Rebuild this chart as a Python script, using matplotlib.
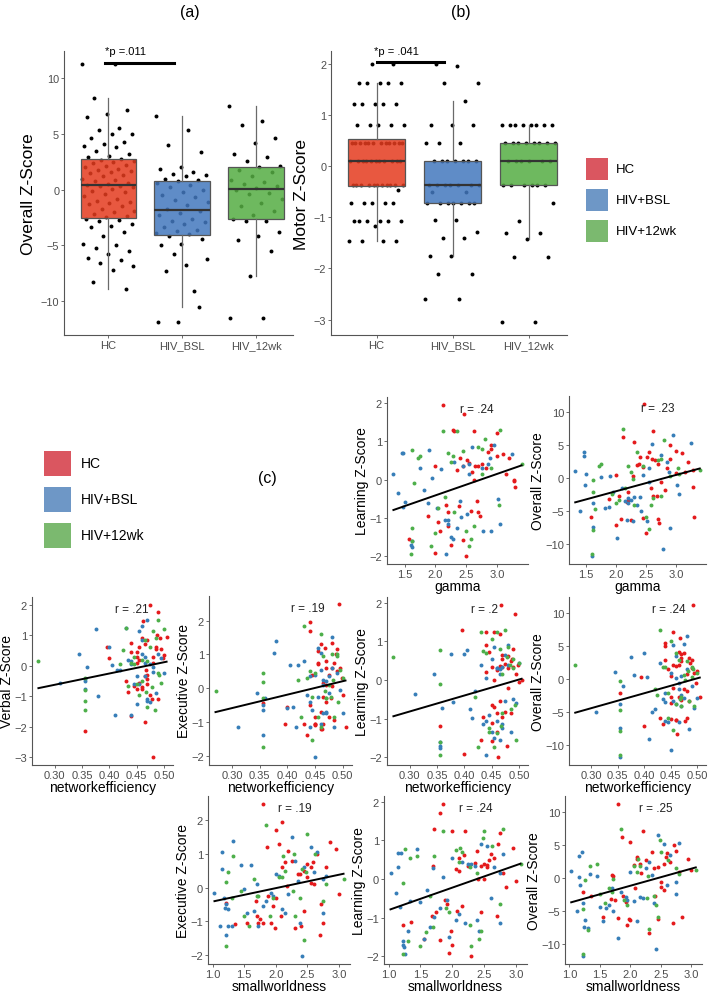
import numpy as np
import matplotlib.pyplot as plt
from matplotlib.colors import to_rgba
from matplotlib.patches import Rectangle

plt.rcParams['font.family'] = ['Liberation Sans', 'DejaVu Sans']

# ---- box plot data (a): overall z-score, (b): motor z-score ----
box_groups = ['HC', 'HIV_BSL', 'HIV_12wk']
overall_hc = [11.3, 11.3, 8.2, 7.2, 6.8, 6.5, 5.5, 5.4, 5.0, 5.0, 4.6, 4.3, 4.1, 3.9, 3.8, 3.5, 3.2, 3.0, 2.9, 2.8,
              2.7, 2.6, 2.5, 2.4, 2.2, 2.1, 2.0, 1.9, 1.8, 1.7, 1.6, 1.5, 1.3, 1.2, 1.0, 0.9, 0.8, 0.6, 0.5, 0.45,
              0.35, 0.3, 0.2, 0.1, -0.1, -0.2, -0.4, -0.6, -0.8, -1.0, -1.1, -1.2, -1.3, -1.5, -1.7, -1.9, -2.0, -2.2, -2.4, -2.5,
              -2.6, -2.7, -2.8, -3.1, -3.3, -3.4, -3.8, -4.2, -4.9, -5.0, -5.2, -5.5, -5.8, -6.1, -6.3, -6.6, -6.9, -7.2, -8.3, -8.9]
overall_bsl = [6.6, 5.4, 4.0, 3.4, 2.0, 1.9, 1.6, 1.45, 1.35, 1.2, 1.0, 0.85,
               0.75, 0.6, 0.4, 0.2, 0.0, -0.2, -0.5, -0.7, -0.9, -1.1, -1.4, -1.7,
               -1.9, -2.1, -2.3, -2.6, -2.8, -2.9, -3.1, -3.4, -3.6, -3.7, -3.9, -4.0,
               -4.2, -4.4, -4.9, -5.0, -9.1, -5.8, -6.2, -6.8, -7.3, -10.5, -11.9, -11.9]
overall_12wk = [7.5, 6.2, 5.8, 4.6, 4.2, 3.2, 2.9, 2.6, 2.1,
                2.0, 1.8, 1.6, 1.2, 0.9, 0.7, 0.5, 0.3, 0.15,
                0.0, -0.3, -0.4, -0.8, -1.2, -1.5, -1.9, -2.3, -2.6,
                -2.8, -2.8, -3.8, -4.2, -4.5, -5.5, -7.8, -11.5, -11.5]
motor_hc = ([-1.47] * 4 + [-1.18] + [-1.07] * 6 + [-0.72] * 5 + [-0.47] + [-0.37] * 11 + [0.1] * 11
            + [0.45] * 12 + [0.8] * 5 + [1.22] * 5 + [1.62] * 5 + [2.0] * 2)
motor_bsl = ([-2.6, -2.6, -2.1, -2.1, -1.75, -1.75, -1.4, -1.4, -1.28, -1.05, -1.05] + [-0.72] * 7
             + [-0.5] * 2 + [-0.37] * 7 + [0.1] * 7 + [0.45, 0.45, 0.45, 0.8, 0.8, 0.8, 1.28, 1.62, 1.62, 1.95, 2.0])
motor_12wk = ([-3.05, -3.05, -1.78, -1.78, -1.42, -1.3, -1.3, -1.07, -0.72] + [-0.37] * 6 + [0.1] * 6
              + [0.45] * 8 + [0.8] * 8)

# ---- scatter data, one entry per subject (HC 44, HIV+BSL 40, HIV+12wk 30) ----
group_sizes = [44, 40, 30]
gamma = [2.20, 2.28, 2.00, 1.58, 2.72, 2.60, 2.30, 2.85, 2.45, 2.00, 3.28, 2.62, 2.35, 2.70, 2.12, 2.50, 2.68, 3.00,
         2.40, 2.65, 3.10, 2.55, 2.25, 3.30, 2.82, 2.20, 3.20, 2.45, 2.90, 2.47, 3.15, 2.75, 3.28, 2.62, 2.18, 2.08,
         2.38, 2.90, 1.88, 2.52, 2.58, 2.70, 2.05, 3.00,
         1.60, 1.62, 1.40, 1.32, 1.62, 1.48, 1.47, 1.50, 1.46, 2.02, 1.82, 1.90, 2.42, 2.85, 2.20, 2.15, 2.52, 1.95,
         2.78, 2.60, 2.75, 2.28, 2.45, 2.10, 3.05, 3.25, 2.95, 2.90, 2.55, 3.02, 2.30, 2.25, 1.75, 2.35, 2.88, 2.55,
         2.18, 2.40, 1.88, 2.20,
         1.75, 1.60, 1.62, 1.65, 1.62, 2.15, 1.93, 2.12, 2.45, 2.20, 2.50, 2.80, 2.55, 2.35, 2.00, 2.75, 2.62, 2.30,
         3.05, 2.28, 2.70, 3.40, 2.05, 2.90, 3.03, 2.58, 2.25, 1.62, 2.75, 1.72]
netefficiency = [0.355, 0.395, 0.400, 0.430, 0.435, 0.440, 0.440, 0.445, 0.450, 0.450, 0.455, 0.455, 0.460, 0.460,
                 0.468, 0.462, 0.465, 0.465, 0.470, 0.470, 0.470, 0.475, 0.478, 0.480, 0.480, 0.485, 0.487, 0.490,
                 0.490, 0.493, 0.495, 0.498, 0.500, 0.505, 0.450, 0.460, 0.455, 0.440, 0.470, 0.485, 0.475, 0.465,
                 0.450, 0.480,
                 0.355, 0.355, 0.310, 0.345, 0.355, 0.360, 0.375, 0.380, 0.400, 0.410, 0.420, 0.405, 0.415, 0.430,
                 0.435, 0.440, 0.445, 0.440, 0.450, 0.455, 0.460, 0.465, 0.470, 0.465, 0.470, 0.475, 0.480, 0.485,
                 0.480, 0.490, 0.500, 0.455, 0.460, 0.470, 0.450, 0.465, 0.440, 0.475, 0.495, 0.460,
                 0.270, 0.355, 0.355, 0.355, 0.355, 0.420, 0.425, 0.430, 0.435, 0.440, 0.445, 0.450, 0.455, 0.460,
                 0.460, 0.465, 0.468, 0.470, 0.475, 0.478, 0.480, 0.483, 0.485, 0.490, 0.492, 0.495, 0.500, 0.445,
                 0.470, 0.490]
smallworld = [1.22, 1.72, 1.95, 1.55, 2.70, 2.10, 2.00, 2.38, 1.80, 1.70, 2.50, 2.20, 2.05, 2.45, 1.86, 2.30, 1.88, 2.75,
              2.10, 2.25, 2.60, 2.35, 2.00, 2.85, 2.55, 1.75, 2.65, 2.45, 2.95, 1.80, 2.80, 2.50, 3.00, 2.40, 1.92, 1.98,
              2.15, 2.72, 1.68, 2.58, 2.08, 2.55, 1.35, 2.18,
              1.22, 1.24, 1.12, 1.03, 1.22, 1.18, 1.15, 1.33, 1.20, 1.80, 1.60, 1.45, 1.72, 2.30, 2.20, 2.05, 2.10, 1.85,
              2.42, 2.55, 2.65, 1.55, 2.35, 1.70, 2.75, 2.80, 2.45, 1.30, 2.25, 2.60, 2.15, 1.95, 1.15, 1.65, 2.00, 2.75,
              1.25, 1.92, 1.50, 2.38,
              1.45, 1.22, 1.25, 1.22, 1.30, 1.65, 1.50, 1.85, 2.05, 2.15, 2.45, 2.48, 2.30, 2.50, 1.58, 2.12, 2.27, 1.95,
              2.80, 1.72, 2.62, 3.07, 1.90, 2.28, 2.75, 2.42, 2.10, 1.70, 2.38, 1.33]
verbal = [-2.15, 0.62, 0.25, -0.50, -0.85, 0.75, -1.65, -0.65, 0.45, 0.30, -0.55, 0.20, 0.90, -0.75, -0.15, 1.45,
          -1.85, 0.70, -0.30, 0.85, -0.45, 2.00, -1.10, 0.30, -3.00, 0.55, 1.00, -1.10, 1.75, 0.90, 0.55, 0.25, 0.35,
          0.95, 0.10, -0.70, 0.60, 0.45, -0.60, 0.60, -0.95, -0.35, -0.75, 0.10,
          -0.50, -0.75, -0.55, 0.40, -0.45, -0.05, 1.20, -1.00, 0.62, -1.60, -0.15, 0.02, -0.15, 1.25, 0.20, 0.05,
          -0.60, -1.60, -1.25, 1.15, 1.30, -0.35, 1.50, 0.30, -1.10, 0.05, -0.20, -0.90, -0.05, 0.40, -0.25, -0.60,
          0.85, -1.15, -0.35, 0.10, 0.15, -1.20, 0.25, 0.40,
          0.17, -1.45, -0.40, -0.80, -1.15, 0.05, 0.50, 1.22, -0.65, 0.10, 0.28, -0.60, -0.95, 0.20, -0.50, 0.85,
          -0.85, -1.35, 0.60, -0.70, 1.15, -1.45, 0.90, 1.50, -0.30, -0.55, 1.20, 0.05, 0.15, -0.25]
executive = [-0.45, -1.05, -0.55, -1.05, -1.40, 1.95, 1.70, 0.40, -1.05, -0.85, 0.70, 1.10, 1.30, -0.70, 1.20, -1.20,
             -0.25, -1.05, 0.60, 0.80, 0.10, 0.40, -0.30, 1.35, 0.60, -0.95, 1.00, 0.50, 1.15, 2.50, 0.60, 0.30, -0.20,
             -1.15, -1.05, -1.20, 0.75, -0.50, -0.40, 0.75, -0.85, 0.15, -1.10, 0.05,
             -1.40, -0.65, -1.15, -0.15, -0.50, -0.30, 1.05, 1.40, -0.60, -0.55, 0.68, 0.68, -1.15, 0.80, -0.20, 0.35,
             -0.65, -0.40, -2.05, 1.20, 1.05, -0.75, 0.20, 0.10, -0.75, 0.35, 0.60, -1.15, 1.50, 0.45, -0.75, -0.25,
             0.55, -0.70, 0.40, 0.25, -1.15, -0.15, -0.05, -1.05,
             -0.10, -1.75, 0.45, 0.18, -0.30, 0.25, -0.85, 1.85, 0.30, 0.50, -1.55, 0.45, -0.85, 1.60, -1.15, 0.95,
             -0.10, -0.30, 0.10, -0.25, 1.00, 0.25, -0.85, 1.00, -0.40, 0.55, 0.30, -0.25, -0.30, 0.95]
learning = [-1.20, 1.30, -1.92, -1.55, -0.95, 0.20, 1.25, 0.72, -1.58, 0.35, 0.00, 1.25, 0.25, -0.85, 1.95, -2.00,
            -0.55, 1.20, 0.55, 0.35, 0.66, 0.42, -1.70, -0.20, 0.30, -0.85, 0.55, 0.35, 0.80, 1.70, 0.15, 0.40, -0.05,
            0.00, -0.65, -1.35, -0.70, 0.90, -0.95, 0.50, -0.82, 0.36, -1.10, 0.62,
            -1.70, -1.75, -0.35, 0.15, -1.60, -0.72, 0.68, -0.58, 0.68, -0.75, -0.28, 0.78, -0.98, 0.40, -1.15, -1.05,
            -0.90, 0.05, -1.35, 0.85, 0.30, -1.55, 0.35, 0.28, -1.15, 0.66, 0.90, -1.35, 0.40, -0.50, 0.45, -1.50,
            0.30, -1.25, 0.55, 0.15, -1.95, -0.55, -0.60, -1.05,
            0.60, -1.95, 0.77, -0.10, -1.60, -0.45, -1.72, 1.25, 0.75, 0.70, -1.35, 1.05, -1.72, 1.25, -1.38, 0.80,
            -1.20, -0.85, 1.30, 0.60, 0.85, 0.40, -0.75, 0.30, -0.65, -1.55, 0.45, -1.25, 0.15, 0.55]
overall = [-2.1, 0.4, -7.1, -5.8, -6.8, 3.0, 5.5, 1.5, -6.0, 0.5, -1.3, 7.2, 2.0, -6.2, 6.3, -8.2, -2.7, 4.2, 3.2,
           2.7, 3.8, 4.0, -6.3, -5.9, -1.8, -3.2, 2.4, 1.7, 3.0, 11.3, 1.0, -0.5, 1.2, -2.7, -3.6, -6.2, 2.1, 5.0,
           -3.1, 3.2, -1.5, 2.2, -2.6, 0.8,
           -11.8, -7.3, -4.9, 1.1, -3.7, -1.0, 3.4, 0.7, 4.0, -9.0, -4.5, 0.3, -5.0, 2.5, -3.0, -3.5, -6.5, -2.0,
           -10.7, 5.2, 3.5, -6.5, 0.5, -1.5, -2.3, 5.4, 6.5, -7.5, 1.5, -1.0, -2.8, -3.2, 0.2, -4.0, 0.9, -0.5,
           -6.3, -2.8, -4.4, -3.8,
           2.2, -11.5, -0.3, -4.7, -7.8, -1.5, -2.3, 7.5, 1.8, 1.9, -5.8, 5.8, -7.6, 4.0, -3.8, 3.0, -2.9, -4.0, 0.6,
           -0.1, 2.7, 1.3, -3.2, 0.3, 1.5, -4.0, 1.0, -2.0, -2.7, 1.9]

legend_labels = ['HC', 'HIV+BSL', 'HIV+12wk']
legend_colors = ['#DA5660', '#6E97C6', '#7BB96F']
box_colors = ['#E43B1E', '#4378BE', '#55AD43']
point_colors = ['#E41A1C', '#377EB8', '#4DAF4A']

W, H = 709, 995
fig = plt.figure(figsize=(W / 100, H / 100), dpi=100)
TICK_GRAY = '#4D4D4D'


def px_axes(x0, x1, y0, y1):
    return fig.add_axes([x0 / W, 1 - y1 / H, (x1 - x0) / W, (y1 - y0) / H])


def style(ax, size):
    for s in ['top', 'right']:
        ax.spines[s].set_visible(False)
    for s in ['left', 'bottom']:
        ax.spines[s].set_color('#555555')
        ax.spines[s].set_linewidth(0.8)
    ax.tick_params(length=2.5, width=0.6, color='#555555', labelcolor=TICK_GRAY, labelsize=size, pad=1)


def expand(v, f=0.05):
    lo, hi = min(v), max(v)
    d = (hi - lo) * f
    return lo - d, hi + d


def fig_text(x, y, s, **kw):
    fig.text(x / W, 1 - y / H, s, **kw)


def fig_square(x0, x1, y0, y1, color):
    fig.add_artist(Rectangle((x0 / W, 1 - y1 / H), (x1 - x0) / W, (y1 - y0) / H,
                             transform=fig.transFigure, facecolor=color, edgecolor='none'))


def box_panel(ax, data, ylabel, yticks):
    for i, vals in enumerate(data):
        offs = ((np.arange(len(vals)) * 0.618034) % 1 - 0.5) * 0.72
        ax.scatter(i + 1 + offs, vals, s=8, c='black', linewidths=0, zorder=1)
    bp = ax.boxplot(data, positions=[1, 2, 3], widths=0.75, patch_artist=True, showfliers=False,
                    showcaps=False, zorder=2,
                    boxprops=dict(edgecolor='#555555', linewidth=0.9),
                    medianprops=dict(color='#333333', linewidth=1.6),
                    whiskerprops=dict(color='#6A6A6A', linewidth=0.9))
    for patch, c in zip(bp['boxes'], box_colors):
        patch.set_facecolor(to_rgba(c, 0.85))
    ax.set_xlim(0.4, 3.5)
    allv = [v for vals in data for v in vals]
    ax.set_ylim(*expand(allv))
    ax.set_xticks([1, 2, 3])
    ax.set_xticklabels(box_groups)
    ax.set_yticks(yticks)
    style(ax, 7.8)
    ax.tick_params(axis='x', labelsize=8)
    ax.set_ylabel(ylabel, fontsize=12.5, labelpad=3)


# ---- (a) ----
ax_a = px_axes(64, 293, 52, 336)
box_panel(ax_a, [overall_hc, overall_bsl, overall_12wk], 'Overall Z-Score', [-10, -5, 0, 5, 10])
ax_a.plot([0.96, 1.89], [11.4, 11.4], color='black', lw=2.2, clip_on=False, zorder=3)
ax_a.text(0.96, 12.5, '*p =.011', fontsize=8, va='center', ha='left', clip_on=False)
fig_text(190, 13, '(a)', fontsize=11.5, ha='center', va='center')

# ---- (b) ----
ax_b = px_axes(331, 567, 52, 336)
box_panel(ax_b, [motor_hc, motor_bsl, motor_12wk], 'Motor Z-Score', [-3, -2, -1, 0, 1, 2])
ax_b.plot([1.0, 1.88], [2.03, 2.03], color='black', lw=2.2, clip_on=False, zorder=3)
ax_b.text(0.97, 2.25, '*p = .041', fontsize=8, va='center', ha='left', clip_on=False)
fig_text(461, 13, '(b)', fontsize=11.5, ha='center', va='center')

# top legend
for i, (lab, col) in enumerate(zip(legend_labels, legend_colors)):
    y0 = 159 + i * 31
    fig_square(586, 608, y0, y0 + 22, col)
    fig_text(616, y0 + 11, lab, fontsize=9.5, va='center', ha='left')

# bottom legend and (c)
for i, (lab, col) in enumerate(zip(legend_labels, legend_colors)):
    y0 = 452 + i * 36
    fig_square(44, 71, y0, y0 + 25, col)
    fig_text(81, y0 + 12.5, lab, fontsize=10, va='center', ha='left')
fig_text(267, 478, '(c)', fontsize=11.5, ha='center', va='center')

# ---- (c) scatter panels ----
group = np.repeat([0, 1, 2], group_sizes)
xvars = {
    'gamma': (np.array(gamma), [1.5, 2.0, 2.5, 3.0], '%.1f'),
    'networkefficiency': (np.array(netefficiency), [0.30, 0.35, 0.40, 0.45, 0.50], '%.2f'),
    'smallworldness': (np.array(smallworld), [1.0, 1.5, 2.0, 2.5, 3.0], '%.1f'),
}
yvars = {
    'Verbal Z-Score': (np.array(verbal), [-3, -2, -1, 0, 1, 2]),
    'Executive Z-Score': (np.array(executive), [-2, -1, 0, 1, 2]),
    'Learning Z-Score': (np.array(learning), [-2, -1, 0, 1, 2]),
    'Overall Z-Score': (np.array(overall), [-10, -5, 0, 5, 10]),
}
panels = [
    ((387, 528, 398, 565), 'gamma', 'Learning Z-Score', 'r = .24', 0.64),
    ((569, 706, 397, 565), 'gamma', 'Overall Z-Score', 'r = .23', 0.65),
    ((32, 173, 598, 766), 'networkefficiency', 'Verbal Z-Score', 'r = .21', 0.71),
    ((209, 352, 597, 766), 'networkefficiency', 'Executive Z-Score', 'r = .19', 0.69),
    ((387, 528, 598, 766), 'networkefficiency', 'Learning Z-Score', 'r = .2', 0.69),
    ((569, 706, 598, 766), 'networkefficiency', 'Overall Z-Score', 'r = .24', 0.73),
    ((208, 350, 797, 965), 'smallworldness', 'Executive Z-Score', 'r = .19', 0.61),
    ((384, 527, 797, 965), 'smallworldness', 'Learning Z-Score', 'r = .24', 0.64),
    ((565, 702, 797, 965), 'smallworldness', 'Overall Z-Score', 'r = .25', 0.66),
]

for box, xname, yname, rtxt, rx in panels:
    ax = px_axes(*box)
    x, xticks, xfmt = xvars[xname]
    y, yticks = yvars[yname]
    for g in range(3):
        m = group == g
        ax.scatter(x[m], y[m], s=8, color=point_colors[g], linewidths=0, zorder=2)
    k, b = np.polyfit(x, y, 1)
    xs = np.array([x.min(), x.max()])
    ax.plot(xs, k * xs + b, color='black', lw=1.4, zorder=3)
    ax.set_xlim(*expand(x))
    ax.set_ylim(*expand(y))
    ax.set_xticks(xticks)
    ax.set_xticklabels([xfmt % t for t in xticks])
    ax.set_yticks(yticks)
    style(ax, 8)
    ax.set_xlabel(xname, fontsize=10, labelpad=0)
    ax.set_ylabel(yname, fontsize=10, labelpad=0.5)
    ax.text(rx, 0.93, rtxt, transform=ax.transAxes, fontsize=8.5, ha='center', va='center', color='#222222')

fig.savefig('out.png', dpi=100)
